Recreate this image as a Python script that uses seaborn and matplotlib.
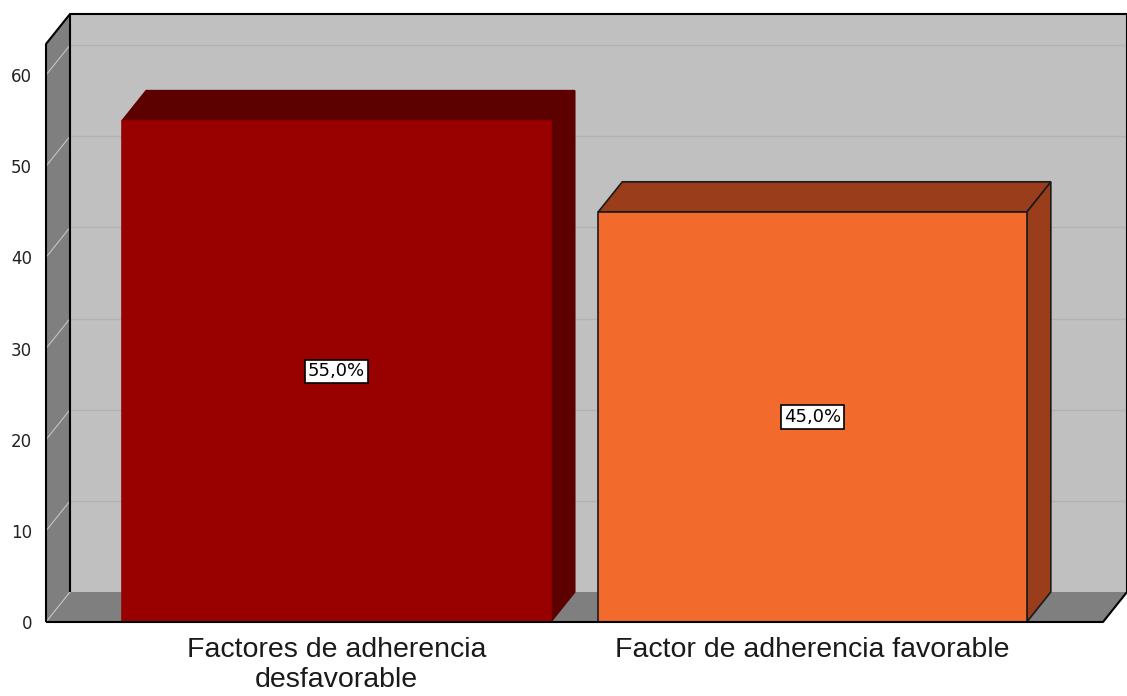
import matplotlib
matplotlib.use("Agg")
import matplotlib.pyplot as plt
from matplotlib.patches import Polygon
import seaborn as sns

# Data
categories = ["Factores de adherencia\ndesfavorable", "Factor de adherencia favorable"]
values = [55.0, 45.0]
front_colors = ["#990000", "#f26a2c"]
side_colors = ["#5c0000", "#9a3d1a"]
edge_colors = ["#990000", "#1a1a1a"]
yticks = [0, 10, 20, 30, 40, 50, 60]

sns.set_style("white")
plt.rcParams["font.family"] = ["DejaVu Sans"]

W, H = 1127, 696
fig = plt.figure(figsize=(W / 100, H / 100), dpi=100)
ax = fig.add_axes([46 / W, (H - 622) / H, (1103 - 46) / W, (622 - 14) / H])

xmin, xmax = -0.61, 1.61
ytop = 66.7
dx, dy = 0.0504, 3.29  # depth offset of the pseudo-3D box (data units)

# back wall, left wall, floor
ax.add_patch(Polygon([(xmin + dx, dy), (xmax + dx, dy), (xmax + dx, ytop), (xmin + dx, ytop)],
                     closed=True, facecolor="#c0c0c0", edgecolor="none", zorder=0, clip_on=False))
ax.add_patch(Polygon([(xmin, 0), (xmin + dx, dy), (xmin + dx, ytop), (xmin, ytop - dy)],
                     closed=True, facecolor="#7f7f7f", edgecolor="none", zorder=0.5, clip_on=False))
ax.add_patch(Polygon([(xmin, 0), (xmax, 0), (xmax + dx, dy), (xmin + dx, dy)],
                     closed=True, facecolor="#7f7f7f", edgecolor="none", zorder=0.5, clip_on=False))

# gridlines on the walls
for v in yticks:
    if v > 0:
        ax.plot([xmin + dx, xmax + dx], [v + dy, v + dy], color="#b2b2b2", lw=1.0, zorder=0.3, clip_on=False)
    ax.plot([xmin, xmin + dx], [v, v + dy], color="#c4c4c4", lw=0.8, zorder=0.6, clip_on=False)

# front faces via seaborn
sns.barplot(x=categories, y=values, hue=categories, palette=front_colors, width=0.9,
            saturation=1, legend=False, ax=ax, zorder=2)

# pseudo-3D side and top faces from the bar geometry
for i, p in enumerate(ax.patches[-len(values):]):
    x0, w, h = p.get_x(), p.get_width(), p.get_height()
    x1 = x0 + w
    p.set_edgecolor(edge_colors[i])
    p.set_linewidth(1.2)
    side = Polygon([(x1, 0), (x1 + dx, dy), (x1 + dx, h + dy), (x1, h)], closed=True,
                   facecolor=side_colors[i], edgecolor=edge_colors[i] if i else side_colors[i],
                   lw=1.2, zorder=1.9)
    top = Polygon([(x0, h), (x0 + dx, h + dy), (x1 + dx, h + dy), (x1, h)], closed=True,
                  facecolor=side_colors[i], edgecolor=edge_colors[i] if i else side_colors[i],
                  lw=1.2, zorder=1.9)
    ax.add_patch(side)
    ax.add_patch(top)
    ax.text(x0 + w / 2, h / 2, f"{h:.1f}%".replace(".", ","), ha="center", va="center",
            fontsize=13, color="black", zorder=5,
            bbox=dict(boxstyle="square,pad=0.15", facecolor="white", edgecolor="black", lw=1.2))

# outlines of the box
ol = dict(color="black", lw=1.5, zorder=3, clip_on=False, solid_capstyle="butt")
ax.plot([xmin, xmin, xmin + dx, xmax + dx, xmax + dx, xmax, xmin],
        [0, ytop - dy, ytop, ytop, dy, 0, 0], **ol)
ax.plot([xmin + dx, xmin + dx], [dy, ytop], **ol)

ax.set_xlim(xmin, xmax)
ax.set_ylim(0, ytop)
ax.set_yticks(yticks)
ax.set_yticklabels([str(t) for t in yticks], fontsize=12, color="#222222")
ax.tick_params(axis="y", length=0, pad=10)
ax.tick_params(axis="x", length=0, pad=11)
for lbl in ax.get_xticklabels():
    lbl.set_fontfamily(["Liberation Sans", "DejaVu Sans"])
    lbl.set_fontsize(20.5)
    lbl.set_color("#1a1a1a")
    lbl.set_linespacing(1.2)
ax.set_xlabel("")
ax.set_ylabel("")
for s in ax.spines.values():
    s.set_visible(False)
ax.set_facecolor("none")

fig.savefig("out.png", dpi=100)
